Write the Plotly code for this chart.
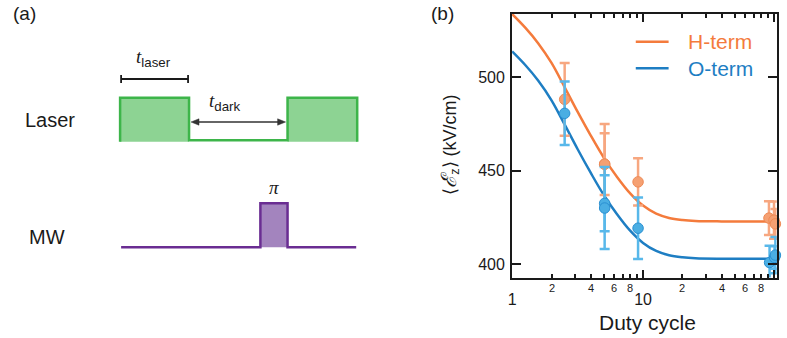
import math
import plotly.graph_objects as go

# ---------------- data (panel b) ----------------
h_x = [2.52, 5.09, 5.09, 9.16, 91.5, 100.0, 102.5]
h_y = [488.2, 453.5, 453.5, 444.0, 424.6, 423.5, 421.5]
h_err = [19.5, 21.5, 16.5, 12.7, 9.0, 10.0, 8.0]

o_x = [2.52, 5.09, 5.09, 9.16, 92.5, 101.0, 102.5]
o_y = [480.7, 432.5, 430.0, 419.2, 400.8, 403.5, 404.8]
o_err = [17.0, 15.0, 22.0, 16.5, 9.0, 6.0, 9.7]

fit_x = [1.0, 1.26, 1.58, 2.0, 2.51, 3.16, 3.98, 5.01, 6.31, 7.94, 10.0, 12.6, 15.8, 20.0, 25.1, 39.8, 100.0, 104.0]
h_fit = [533.9, 526.6, 518.3, 507.7, 494.9, 481.6, 468.9, 457.0, 446.8, 438.0, 431.3, 427.0, 424.7, 423.6, 423.1, 422.85, 422.8, 422.8]
o_fit = [513.9, 506.6, 498.3, 487.7, 474.9, 461.6, 448.9, 437.0, 426.8, 418.0, 411.3, 407.0, 404.7, 403.6, 403.1, 402.85, 402.8, 402.8]

x_major_vals = [1, 10, 100]
x_major_text = ["1", "10", "100"]
x_minor_vals = [2, 3, 4, 5, 6, 7, 8, 9, 20, 30, 40, 50, 60, 70, 80, 90]
x_minor_labels = [2, 4, 6, 8, 20, 40, 60, 80]
x_minor_text = ["2", "4", "6", "8", "2", "4", "6", "8"]
y_ticks = [400, 450, 500]

series_names = ["H-term", "O-term"]

# ---------------- styling ----------------
W, H = 787, 338
ORANGE = "#F47B3C"
ORANGE_PT = "#F5A072"
ORANGE_EB = "#F7A780"
BLUE = "#1E7EC3"
BLUE_PT = "#4AAEE3"
BLUE_EB = "#58B8EA"
GREEN_LINE = "#3DB54A"
GREEN_FILL = "#8DD393"
PURPLE_LINE = "#6A2D92"
PURPLE_FILL = "#A384BE"
INK = "#1a1a1a"
SANS = "Liberation Sans, Arial, sans-serif"
SERIF = "Liberation Serif, Times New Roman, serif"


def px(x):
    return x / W


def py(y):
    return 1 - y / H


fig = go.Figure()

# fit curves
for fx, fy, col in [(fit_x, h_fit, ORANGE), (fit_x, o_fit, BLUE)]:
    fig.add_trace(go.Scatter(x=fx, y=fy, mode="lines",
                             line=dict(color=col, width=2.5, shape="spline", smoothing=1.0),
                             showlegend=False, hoverinfo="skip"))

# data points with error bars
for xs, ys, es, pc, ec, lc in [(h_x, h_y, h_err, ORANGE_PT, ORANGE_EB, "#EF8A55"),
                               (o_x, o_y, o_err, BLUE_PT, BLUE_EB, "#2A90D2")]:
    fig.add_trace(go.Scatter(
        x=xs, y=ys, mode="markers",
        marker=dict(size=10.5, color=pc, line=dict(color=lc, width=1)),
        error_y=dict(type="data", array=es, visible=True, color=ec, thickness=2.5, width=5),
        cliponaxis=False, showlegend=False))

fig.update_layout(
    width=W, height=H,
    margin=dict(l=0, r=0, t=0, b=0),
    paper_bgcolor="white", plot_bgcolor="white",
    font=dict(family=SANS, color=INK),
    showlegend=False,
    xaxis=dict(
        type="log", domain=[510.7 / W, 776.7 / W], range=[0, 2.021],
        tickvals=x_major_vals, ticktext=x_major_text,
        ticks="inside", ticklen=8, tickwidth=2, tickcolor=INK,
        minor=dict(tickvals=x_minor_vals, ticks="inside", ticklen=4, tickwidth=1.5, tickcolor=INK),
        showline=True, linewidth=2, linecolor=INK, mirror="ticks",
        showgrid=False, zeroline=False,
        tickfont=dict(size=16, color=INK), ticklabelstandoff=6,
    ),
    yaxis=dict(
        domain=[1 - 277.5 / H, 1 - 14 / H], range=[392.8, 533.9],
        tickvals=y_ticks,
        ticks="inside", ticklen=9, tickwidth=2, tickcolor=INK,
        showline=True, linewidth=2, linecolor=INK, mirror="ticks",
        showgrid=False, zeroline=False,
        tickfont=dict(size=16, color=INK), ticklabelstandoff=2,
    ),
)

ann = []
# minor tick labels
for v, t in zip(x_minor_labels, x_minor_text):
    ann.append(dict(x=math.log10(v), xref="x", y=py(288), yref="paper",
                    text=t, showarrow=False, font=dict(size=11, color=INK),
                    xanchor="center", yanchor="middle"))

# axis titles
ann.append(dict(x=px(646.7), y=py(322.5), xref="paper", yref="paper", text="Duty cycle",
                showarrow=False, font=dict(size=21, color=INK), xanchor="center", yanchor="middle"))
ann.append(dict(x=px(448), y=py(145), xref="paper", yref="paper",
                text='⟨<span style="font-family:DejaVu Serif;font-size:21px"><i>ℰ</i></span><sub>z</sub>⟩ (kV/cm)',
                textangle=-90, showarrow=False, font=dict(size=18, color=INK),
                xanchor="center", yanchor="middle"))

# legend (manual)
shapes = []
for name, col, yy in [(series_names[0], ORANGE, 41.7), (series_names[1], BLUE, 68.3)]:
    shapes.append(dict(type="line", xref="paper", yref="paper", x0=px(635), x1=px(668),
                       y0=py(yy), y1=py(yy), line=dict(color=col, width=2.5)))
    ann.append(dict(x=px(685), y=py(yy), xref="paper", yref="paper", text=name, showarrow=False,
                    font=dict(size=21, color=col), xanchor="left", yanchor="middle"))

# panel labels
ann.append(dict(x=px(20.5), y=py(14), xref="paper", yref="paper", text="(a)", showarrow=False,
                font=dict(size=19, color=INK), xanchor="center", yanchor="middle"))
ann.append(dict(x=px(441), y=py(14), xref="paper", yref="paper", text="(b)", showarrow=False,
                font=dict(size=19, color=INK), xanchor="center", yanchor="middle"))

# ---------------- panel (a) schematic ----------------
ann.append(dict(x=px(19), y=py(120), xref="paper", yref="paper", text="Laser", showarrow=False,
                font=dict(size=20, color=INK), xanchor="left", yanchor="middle"))
ann.append(dict(x=px(23), y=py(237), xref="paper", yref="paper", text="MW", showarrow=False,
                font=dict(size=20, color=INK), xanchor="left", yanchor="middle"))

# laser pulses fill
for x0, x1 in [(116.7, 186.0), (285.0, 355.0)]:
    shapes.append(dict(type="rect", xref="paper", yref="paper", x0=px(x0), x1=px(x1),
                       y0=py(141.7), y1=py(97.7), fillcolor=GREEN_FILL, line=dict(width=0), layer="below"))


def path(points, close=False):
    s = "M" + " L".join(f"{px(a):.5f},{py(b):.5f}" for a, b in points)
    return s + (" Z" if close else "")


shapes.append(dict(type="path", xref="paper", yref="paper",
                   path=path([(116.7, 141.7), (116.7, 97.7), (186, 97.7), (186, 140.3), (285, 140.3),
                              (285, 97.7), (355, 97.7), (355, 141.7)]),
                   line=dict(color=GREEN_LINE, width=2.5)))

# t_laser bar
shapes.append(dict(type="line", xref="paper", yref="paper", x0=px(117.7), x1=px(185),
                   y0=py(79), y1=py(79), line=dict(color=INK, width=1.8)))
for xx in (117.7, 185):
    shapes.append(dict(type="line", xref="paper", yref="paper", x0=px(xx), x1=px(xx),
                       y0=py(75), y1=py(83), line=dict(color=INK, width=1.8)))

ann.append(dict(x=px(150), y=py(58), xref="paper", yref="paper",
                text=f'<span style="font-family:{SERIF}"><i>t</i></span><sub>laser</sub>',
                showarrow=False, font=dict(size=19, color=INK), xanchor="center", yanchor="middle"))
ann.append(dict(x=px(222), y=py(102), xref="paper", yref="paper",
                text=f'<span style="font-family:{SERIF}"><i>t</i></span><sub>dark</sub>',
                showarrow=False, font=dict(size=19, color=INK), xanchor="center", yanchor="middle"))

# t_dark double arrow (line + two heads)
ARW = "#333333"
shapes.append(dict(type="line", xref="paper", yref="paper", x0=px(192), x1=px(279),
                   y0=py(122), y1=py(122), line=dict(color=ARW, width=1.4)))
shapes.append(dict(type="path", xref="paper", yref="paper",
                   path=path([(188, 122), (196, 118.8), (196, 125.2)], close=True),
                   fillcolor=ARW, line=dict(color=ARW, width=0.5)))
shapes.append(dict(type="path", xref="paper", yref="paper",
                   path=path([(283, 122), (275, 118.8), (275, 125.2)], close=True),
                   fillcolor=ARW, line=dict(color=ARW, width=0.5)))

# MW pulse
shapes.append(dict(type="rect", xref="paper", yref="paper", x0=px(257.7), x1=px(285),
                   y0=py(247.3), y1=py(203.3), fillcolor=PURPLE_FILL, line=dict(width=0), layer="below"))
shapes.append(dict(type="path", xref="paper", yref="paper",
                   path=path([(117.7, 247.3), (257.7, 247.3), (257.7, 203.3), (285, 203.3),
                              (285, 247.3), (354, 247.3)]),
                   line=dict(color=PURPLE_LINE, width=2.5)))
ann.append(dict(x=px(271.5), y=py(188), xref="paper", yref="paper", text="<i>π</i>", showarrow=False,
                font=dict(size=19, color=INK, family=SERIF), xanchor="center", yanchor="middle"))

fig.update_layout(annotations=ann, shapes=shapes)
fig.write_html("out.html")
